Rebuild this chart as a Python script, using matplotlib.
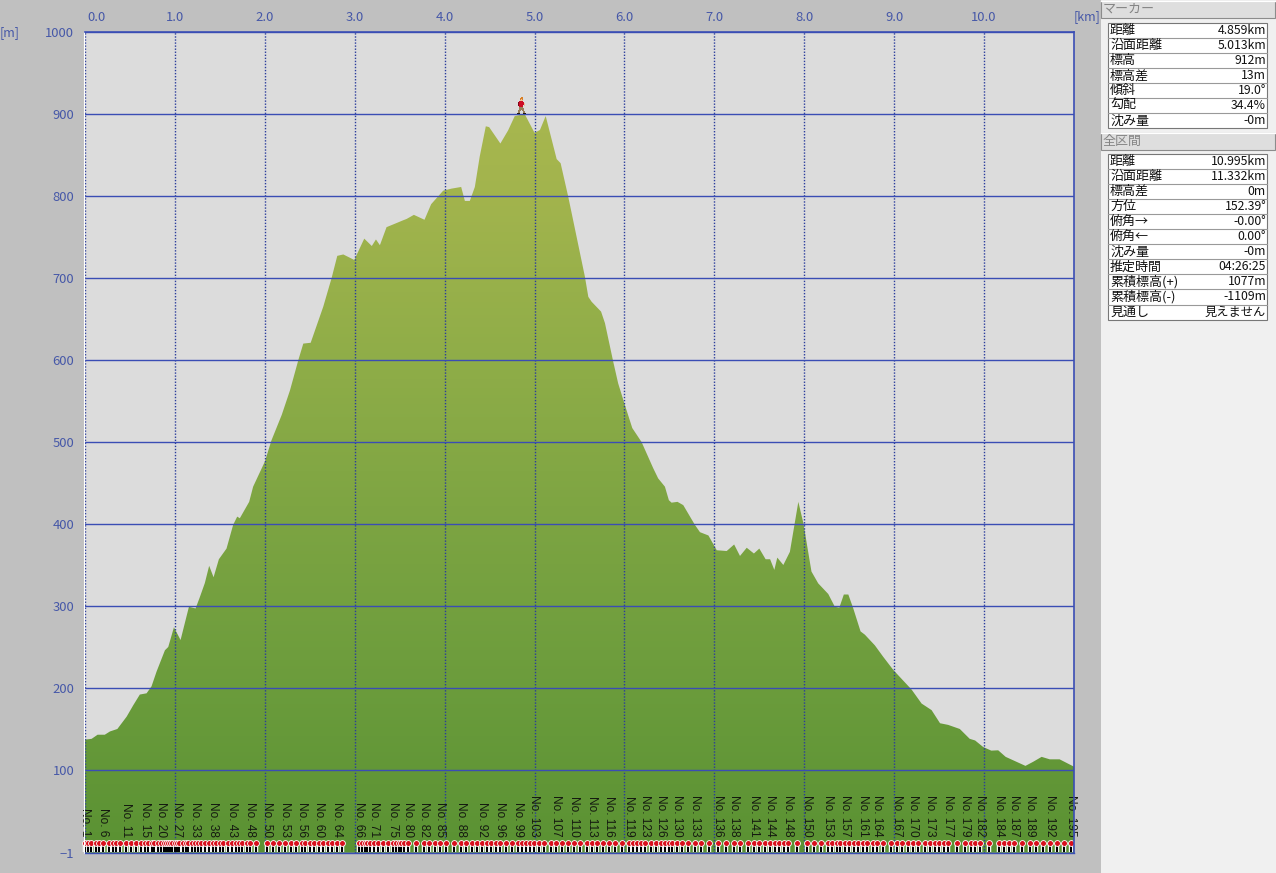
import numpy as np
import matplotlib
matplotlib.use('Agg')
from matplotlib import pyplot as plt
from matplotlib.colors import LinearSegmentedColormap
from matplotlib.offsetbox import AnnotationBbox, OffsetImage
from matplotlib.patches import Polygon, Rectangle
from matplotlib.transforms import ScaledTranslation

plt.rcParams['font.family'] = ['Noto Sans CJK JP', 'DejaVu Sans']

# profile
dist_km = [0, .074, .14, .22, .278, .36, .463, .537, .61, .685, .74, .796, .889, .926, .989, 1.063, 1.11, 1.156,
           1.23, 1.278, 1.333, 1.381, 1.43, 1.489, 1.574, 1.648, 1.693, 1.722, 1.826, 1.87, 2.0, 2.074, 2.188,
           2.28, 2.373, 2.428, 2.51, 2.65, 2.743, 2.806, 2.873, 2.995, 3.106, 3.19, 3.236, 3.28, 3.354, 3.465,
           3.53, 3.577, 3.658, 3.776, 3.85, 3.984, 4.077, 4.184, 4.225, 4.28, 4.336, 4.39, 4.458, 4.495, 4.62,
           4.706, 4.78, 4.89, 5.0, 5.06, 5.124, 5.246, 5.29, 5.375, 5.56, 5.598, 5.635, 5.74, 5.783, 5.875,
           5.93, 6.005, 6.087, 6.19, 6.32, 6.375, 6.45, 6.494, 6.524, 6.59, 6.654, 6.783, 6.84, 6.934, 7.026,
           7.137, 7.22, 7.285, 7.36, 7.44, 7.5, 7.57, 7.62, 7.667, 7.7, 7.767, 7.84, 7.934, 7.99, 8.08, 8.155,
           8.267, 8.34, 8.39, 8.44, 8.49, 8.545, 8.626, 8.674, 8.785, 8.878, 8.99, 9.194, 9.305, 9.416, 9.51,
           9.6, 9.73, 9.84, 9.9, 9.99, 10.08, 10.157, 10.24, 10.34, 10.46, 10.546, 10.64, 10.73, 10.84, 11.0]
elev_m = [137, 138, 143, 143, 147, 150, 165, 179, 192, 193.5, 202, 220, 246, 250, 274, 258.5, 279, 299,
          297, 311, 328, 349, 335, 357, 370, 399, 409, 407, 427, 445.5, 476, 502, 533,
          563, 600, 620, 621, 665, 700, 727, 728.7, 722, 748, 739, 747, 740, 762, 767,
          770, 772, 777, 771, 790, 806.5, 809, 811, 794, 794, 811, 848, 885, 884, 864,
          880, 897.5, 900, 877, 880.5, 897.5, 845, 840, 799, 701.6, 677, 671, 659, 645, 598,
          571.5, 545, 517, 500, 468, 455.6, 445.5, 429, 426, 427, 423, 399, 390, 386, 368,
          367, 375, 361, 371, 364, 370, 357, 357, 344, 359, 350, 366, 427, 401, 342, 327.6,
          314.6, 299, 298, 314, 314, 297, 269, 265, 252, 238, 222, 198, 181, 173, 157,
          155, 150, 138, 136, 128, 123.6, 124, 116, 111, 105, 110, 116, 113, 113, 104]

# waypoints No.1 .. No.195
point_km = [0.00, .03, .07, .12, .16, .20, .27, .31, .35, .39, .46, .51, .57, .62, .67, .70, .74, .77, .81, .85,
            .88, .90, .92, .94, .97, 1.00, 1.02, 1.05, 1.09, 1.12, 1.15, 1.19, 1.22, 1.26, 1.29, 1.33, 1.38, 1.42,
            1.46, 1.50, 1.54, 1.59, 1.63, 1.68, 1.71, 1.75, 1.80, 1.84, 1.90, 2.02, 2.09, 2.16, 2.22, 2.29, 2.35,
            2.41, 2.45, 2.50, 2.55, 2.60, 2.65, 2.70, 2.75, 2.80, 2.86, 3.05, 3.08, 3.11, 3.14, 3.17, 3.21, 3.26,
            3.31, 3.37, 3.43, 3.46, 3.49, 3.52, 3.55, 3.59, 3.68, 3.77, 3.83, 3.89, 3.95, 4.02, 4.10, 4.18, 4.24,
            4.30, 4.36, 4.42, 4.47, 4.52, 4.57, 4.62, 4.68, 4.75, 4.82, 4.86, 4.90, 4.95, 4.99, 5.05, 5.11, 5.18,
            5.24, 5.31, 5.37, 5.44, 5.51, 5.58, 5.64, 5.70, 5.76, 5.83, 5.90, 5.97, 6.05, 6.09, 6.14, 6.18, 6.23,
            6.29, 6.35, 6.41, 6.45, 6.49, 6.53, 6.58, 6.64, 6.71, 6.78, 6.85, 6.94, 7.04, 7.13, 7.22, 7.29, 7.37,
            7.44, 7.50, 7.56, 7.62, 7.67, 7.72, 7.77, 7.82, 7.92, 8.03, 8.11, 8.19, 8.26, 8.31, 8.36, 8.40, 8.45,
            8.50, 8.55, 8.60, 8.65, 8.70, 8.76, 8.81, 8.88, 8.96, 9.03, 9.09, 9.15, 9.21, 9.27, 9.34, 9.40, 9.45,
            9.50, 9.55, 9.60, 9.70, 9.79, 9.85, 9.90, 9.96, 10.06, 10.17, 10.22, 10.28, 10.33, 10.42, 10.51, 10.58,
            10.66, 10.73, 10.81, 10.89, 10.97]
label_no = [1, 6, 11, 15, 20, 27, 33, 38, 43, 48, 50, 53, 56, 60, 64, 66, 71, 75, 80, 82, 85, 88, 92, 96, 99, 103,
            107, 110, 113, 116, 119, 123, 126, 130, 133, 136, 138, 141, 144, 148, 150, 153, 157, 161, 164, 167, 170,
            173, 177, 179, 182, 184, 187, 189, 192, 195]

km_ticks = [0, 1, 2, 3, 4, 5, 6, 7, 8, 9, 10]
m_ticks = [-1, 100, 200, 300, 400, 500, 600, 700, 800, 900, 1000]
marker_km = 4.859
marker_foot_m = 900

marker_rows = [('距離', '4.859km'), ('沿面距離', '5.013km'), ('標高', '912m'), ('標高差', '13m'),
               ('傾斜', '19.0°'), ('勾配', '34.4%'), ('沈み量', '-0m')]
total_rows = [('距離', '10.995km'), ('沿面距離', '11.332km'), ('標高差', '0m'), ('方位', '152.39°'),
              ('俯角→', '-0.00°'), ('俯角←', '0.00°'), ('沈み量', '-0m'), ('推定時間', '04:26:25'),
              ('累積標高(+)', '1077m'), ('累積標高(-)', '-1109m'), ('見通し', '見えません')]

W, H = 1276, 873
BLUE = '#3a4db4'
TXT = '#4658a8'

fig = plt.figure(figsize=(W / 100, H / 100), dpi=100, facecolor='#c0c0c0')
ax = fig.add_axes([85 / W, 1 - 852.8 / H, 989 / W, 820.8 / H], facecolor='#dcdcdc')
ax.set_xlim(0, 11)
ax.set_ylim(-1, 1000)

# gradient fill clipped to the profile
cmap = LinearSegmentedColormap.from_list('ground', ['#5a9233', '#6b9c3c', '#7ca442', '#8fad48', '#a2b44d', '#acb950'])
im = ax.imshow(np.linspace(1, 0, 256).reshape(-1, 1), cmap=cmap, aspect='auto', extent=[0, 11, -1, 1000],
               zorder=1, interpolation='bilinear')
outline = np.column_stack([[0] + dist_km + [11], [-1] + elev_m + [-1]])
im.set_clip_path(Polygon(outline, closed=True, transform=ax.transData))

# grid
ax.set_xticks(km_ticks)
ax.set_xticklabels(['%.1f' % k for k in km_ticks])
ax.set_yticks(m_ticks)
ax.xaxis.tick_top()
ax.tick_params(length=0, labelsize=9.4, labelcolor=TXT, pad=7)
ax.tick_params(axis='x', pad=6)
ax.set_axisbelow(False)
ax.grid(axis='y', color=BLUE, lw=1, ls='-', zorder=2)
ax.grid(axis='x', color='#2a3c9c', lw=1, ls=(0, (1, 1.2)), zorder=2)
ax.xaxis.get_gridlines()[0].set_clip_on(False)
first = ax.get_xticklabels()[0]
first.set_transform(first.get_transform() + ScaledTranslation(12 / 100, 0, fig.dpi_scale_trans))

for name, sp in ax.spines.items():
    sp.set_color(BLUE)
    sp.set_linewidth(1.2)
    sp.set_zorder(6)
ax.spines['left'].set_color('white')
ax.spines['left'].set_linewidth(0.8)
ax.spines['left'].set_position(('outward', 0.8))
ax.spines['bottom'].set_linewidth(1)

# waypoints along the bottom
xfrac = ax.get_xaxis_transform()
ax.vlines(point_km, 0.001, 0.0125, transform=xfrac, color='white', lw=3.2, zorder=3, clip_on=False)
ax.vlines(point_km, 0.001, 0.009, transform=xfrac, color='black', lw=1.5, zorder=4, clip_on=False)
ax.plot(point_km, [0.0125] * len(point_km), transform=xfrac, ls='none', marker='o', ms=4.2, mfc='#d8101c',
        mec='white', mew=0.6, zorder=5, clip_on=False)
for no in label_no:
    ax.text(point_km[no - 1], 0.0195, 'No. %d' % no, transform=xfrac, rotation=-90, ha='center', va='bottom',
            fontsize=8.6, color='#151a10', family=['Liberation Sans'], zorder=5, clip_on=False)

# hiker sprite standing on the marker
pal = {'.': (0, 0, 0, 0), 'o': (.85, .5, .15, 1), 's': (.93, .75, .6, 1), 'r': (.8, .05, .15, 1),
       'd': (.5, .03, .1, 1), 'b': (.6, .5, .35, 1), 'k': (.12, .1, .08, 1)}
sprite = ['.....oo....', '....ooo....', '....oso....', '....sss....', '...rrrr....', '..drrrrr...', '..drrrrrs..',
          '..drrrrrs..', '..drrrr.s..', '...rrrr....', '...bbbb....', '...bbbbb...', '...bbbbb...', '..bbb.bb...',
          '..bb...bb..', '..bb...bb..', '.kkk...kkk.']
rgba = np.array([[pal[c] for c in row] for row in sprite])
ax.add_artist(AnnotationBbox(OffsetImage(rgba, zoom=0.72, interpolation='nearest'), (marker_km, marker_foot_m),
                             box_alignment=(0.5, 0), frameon=False, pad=0, zorder=7))

# overlay in pixel units for panel and unit labels
ov = fig.add_axes([0, 0, 1, 1], facecolor='none')
ov.set_xlim(0, W)
ov.set_ylim(H, 0)
ov.axis('off')
ov.text(10, 33, '[m]', color=TXT, fontsize=9, ha='center', va='center')
ov.text(1087, 17, '[km]', color=TXT, fontsize=9, ha='center', va='center')
ov.add_patch(Rectangle((1101, 0), W - 1101, H, fc='#f0f0f0', ec='none'))


def heading(y0, y1, label):
    ov.add_patch(Rectangle((1101, y0), 174, y1 - y0, fc='#dedede', ec='#8c8c8c', lw=0.8))
    ov.plot([1101, 1275], [y0, y0], color='white', lw=1)
    ov.text(1103, (y0 + y1) / 2 - 0.5, label, color='#858585', fontsize=9.4, ha='left', va='center')


def table(y0, rows):
    rh = 15.05
    ov.add_patch(Rectangle((1108, y0), 159, rh * len(rows), fc='white', ec='#777777', lw=0.8))
    for i, (k, v) in enumerate(rows):
        y = y0 + rh * i
        if i:
            ov.plot([1108, 1267], [y, y], color='#999999', lw=0.8)
        ov.text(1110, y + rh / 2, k, fontsize=9.4, color='#111111', ha='left', va='center')
        ov.text(1266, y + rh / 2, v, fontsize=8.8, color='#111111', ha='right', va='center')


heading(1, 18, 'マーカー')
table(23, marker_rows)
heading(133, 150, '全区間')
table(154, total_rows)

plt.savefig('out.png', dpi=100, facecolor=fig.get_facecolor())
